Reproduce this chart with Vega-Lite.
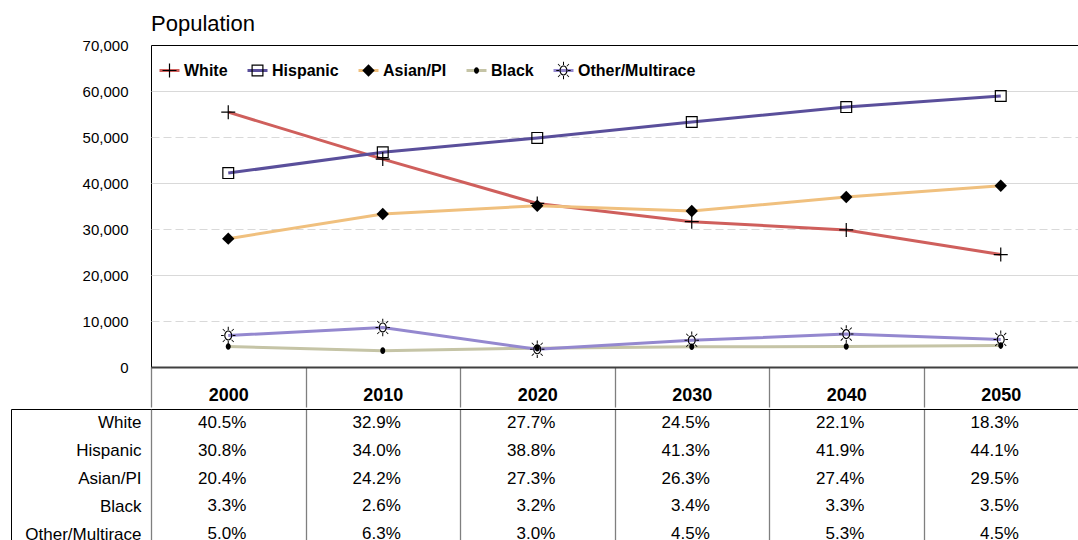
{
  "$schema": "https://vega.github.io/schema/vega-lite/v6.json",
  "padding": {"left": 10, "top": 12, "right": 1, "bottom": 0},
  "spacing": -10,
  "config": {
    "font": "Liberation Sans",
    "axis": {"labelFont": "Liberation Sans", "labelColor": "black"},
    "legend": {"labelFont": "Liberation Sans"}
  },
  "datasets": {
    "pop": [
      {"year": "2000", "race": "White", "order": 1, "pop": 55400, "pct": 0.405},
      {"year": "2000", "race": "Hispanic", "order": 2, "pop": 42150, "pct": 0.308},
      {"year": "2000", "race": "Asian/PI", "order": 3, "pop": 27900, "pct": 0.204},
      {"year": "2000", "race": "Black", "order": 4, "pop": 4450, "pct": 0.033},
      {"year": "2000", "race": "Other/Multirace", "order": 5, "pop": 6850, "pct": 0.05},
      {"year": "2010", "race": "White", "order": 1, "pop": 45200, "pct": 0.329},
      {"year": "2010", "race": "Hispanic", "order": 2, "pop": 46700, "pct": 0.34},
      {"year": "2010", "race": "Asian/PI", "order": 3, "pop": 33250, "pct": 0.242},
      {"year": "2010", "race": "Black", "order": 4, "pop": 3550, "pct": 0.026},
      {"year": "2010", "race": "Other/Multirace", "order": 5, "pop": 8600, "pct": 0.063},
      {"year": "2020", "race": "White", "order": 1, "pop": 35550, "pct": 0.277},
      {"year": "2020", "race": "Hispanic", "order": 2, "pop": 49800, "pct": 0.388},
      {"year": "2020", "race": "Asian/PI", "order": 3, "pop": 35050, "pct": 0.273},
      {"year": "2020", "race": "Black", "order": 4, "pop": 4100, "pct": 0.032},
      {"year": "2020", "race": "Other/Multirace", "order": 5, "pop": 3850, "pct": 0.03},
      {"year": "2030", "race": "White", "order": 1, "pop": 31600, "pct": 0.245},
      {"year": "2030", "race": "Hispanic", "order": 2, "pop": 53250, "pct": 0.413},
      {"year": "2030", "race": "Asian/PI", "order": 3, "pop": 33900, "pct": 0.263},
      {"year": "2030", "race": "Black", "order": 4, "pop": 4400, "pct": 0.034},
      {"year": "2030", "race": "Other/Multirace", "order": 5, "pop": 5800, "pct": 0.045},
      {"year": "2040", "race": "White", "order": 1, "pop": 29800, "pct": 0.221},
      {"year": "2040", "race": "Hispanic", "order": 2, "pop": 56500, "pct": 0.419},
      {"year": "2040", "race": "Asian/PI", "order": 3, "pop": 36950, "pct": 0.274},
      {"year": "2040", "race": "Black", "order": 4, "pop": 4450, "pct": 0.033},
      {"year": "2040", "race": "Other/Multirace", "order": 5, "pop": 7150, "pct": 0.053},
      {"year": "2050", "race": "White", "order": 1, "pop": 24450, "pct": 0.183},
      {"year": "2050", "race": "Hispanic", "order": 2, "pop": 58900, "pct": 0.441},
      {"year": "2050", "race": "Asian/PI", "order": 3, "pop": 39400, "pct": 0.295},
      {"year": "2050", "race": "Black", "order": 4, "pop": 4650, "pct": 0.035},
      {"year": "2050", "race": "Other/Multirace", "order": 5, "pop": 6000, "pct": 0.045}
    ]
  },
  "vconcat": [
    {
      "title": {"text": "Population", "anchor": "start", "frame": "group", "fontSize": 22, "fontWeight": "normal", "font": "Liberation Sans", "color": "black", "offset": 2},
      "width": 927,
      "height": 322,
      "data": {"name": "pop"},
      "view": {"stroke": "black", "strokeWidth": 1},
      "encoding": {
        "x": {
          "field": "year", "type": "ordinal", "bandPosition": 0.5,
          "scale": {"type": "band", "paddingInner": 0, "paddingOuter": 0},
          "axis": {
            "title": null, "orient": "bottom", "labelAngle": 0,
            "labelFontSize": 18, "labelFontWeight": "bold", "labelColor": "black",
            "tickBand": "extent", "tickSize": 40, "tickWidth": 1.3,
            "tickColor": {"condition": {"test": "datum.value === '2050' && !datum.extra", "value": "transparent"}, "value": "#7f7f7f"},
            "domainColor": "#404040", "domainWidth": 2, "labelPadding": -21, "grid": false
          }
        },
        "y": {
          "field": "pop", "type": "quantitative",
          "scale": {"domain": [0, 70000]},
          "axis": {
            "title": null, "values": [0, 10000, 20000, 30000, 40000, 50000, 60000, 70000],
            "format": ",d", "labelFontSize": 15, "labelColor": "black",
            "ticks": false, "domain": false, "labelPadding": 23,
            "gridColor": "#d9d9d9", "gridWidth": 1,
            "gridOpacity": {"condition": {"test": "datum.value === 0 || datum.value === 70000", "value": 0}, "value": 1},
            "gridDash": {"condition": {"test": "datum.value % 20000 !== 0", "value": [8, 4]}, "value": []},
            "minExtent": 140, "maxExtent": 140
          }
        }
      },
      "layer": [
        {
          "mark": {"type": "line", "strokeWidth": 3},
          "encoding": {
            "color": {
              "field": "race", "type": "nominal",
              "scale": {
                "domain": ["White", "Hispanic", "Asian/PI", "Black", "Other/Multirace"],
                "range": ["#cf5f5c", "#5a4f9b", "#f0c07e", "#c5c4a6", "#9488cf"]
              },
              "legend": {
                "orient": "none", "legendX": 7, "legendY": 14, "direction": "horizontal",
                "title": null, "symbolType": "M-1,0H1M0,-1.15M0,1.15", "symbolSize": 400, "symbolStrokeWidth": 3,
                "symbolFillColor": "transparent",
                "labelFontSize": 16, "labelFontWeight": "bold", "labelOpacity": 0,
                "labelOffset": 3, "columnPadding": 13, "padding": 0
              }
            }
          }
        },
        {
          "mark": {"type": "point", "size": 400, "filled": true, "fill": "black", "strokeWidth": 0, "opacity": 1},
          "encoding": {
            "shape": {
              "field": "race", "type": "nominal", "sort": {"field": "order", "op": "min"},
              "scale": {
                "range": [
                  "M-1,0M1,0M0,-1.15M0,1.15M-0.7,-0.06H-0.06V-0.7H0.06V-0.06H0.7V0.06H0.06V0.7H-0.06V0.06H-0.7Z",
                  "M-1,0M1,0M0,-1.15M0,1.15M-0.6,-0.6H0.6V0.6H-0.6ZM-0.48,-0.48V0.48H0.48V-0.48Z",
                  "M-1,0M1,0M0,-1.15M0,1.15M0,-0.62L0.62,0L0,0.62L-0.62,0Z",
                  "M-1,0M1,0M0,-1.15M0,1.15M-0.25,0A0.25,0.33 0 1,0 0.25,0A0.25,0.33 0 1,0 -0.25,0Z",
                  "M-1,0M1,0M0,-1.15M0,1.15M-0.4,0A0.4,0.5 0 1,0 0.4,0A0.4,0.5 0 1,0 -0.4,0ZM-0.29,0A0.29,0.39 0 1,1 0.29,0A0.29,0.39 0 1,1 -0.29,0ZM-0.05,-0.56H0.05V-0.88H-0.05ZM-0.05,0.56H0.05V0.88H-0.05ZM-0.45,-0.05V0.05H-0.72V-0.05ZM0.45,-0.05V0.05H0.72V-0.05ZM0.3,-0.46L0.52,-0.68L0.58,-0.62L0.36,-0.4ZM-0.3,-0.46L-0.52,-0.68L-0.58,-0.62L-0.36,-0.4ZM0.3,0.46L0.52,0.68L0.58,0.62L0.36,0.4ZM-0.3,0.46L-0.52,0.68L-0.58,0.62L-0.36,0.4Z"
                ]
              },
              "legend": {
                "orient": "none", "legendX": 7, "legendY": 14, "direction": "horizontal",
                "title": null, "symbolSize": 400, "symbolStrokeWidth": 3, "symbolStrokeColor": "transparent", "symbolFillColor": "black",
                "labelFontSize": 16, "labelFontWeight": "bold", "labelColor": "black",
                "labelOffset": 3, "columnPadding": 13, "padding": 0
              }
            }
          }
        }
      ]
    },
    {
      "width": 927,
      "height": 132,
      "data": {"name": "pop"},
      "view": {"stroke": null},
      "mark": {"type": "text", "align": "right", "dx": 18, "baseline": "middle", "font": "Liberation Sans", "fontSize": 17, "color": "black"},
      "encoding": {
        "x": {
          "field": "year", "type": "ordinal",
          "scale": {"type": "band", "paddingInner": 0, "paddingOuter": 0},
          "axis": {
            "orient": "top", "title": null, "labels": false, "ticks": false,
            "domain": true, "domainColor": "black", "domainWidth": 1,
            "grid": true, "tickBand": "extent", "gridWidth": 1.3, "gridOpacity": 1,
            "gridColor": {"condition": {"test": "datum.value === '2050' && !datum.extra", "value": "transparent"}, "value": "#7f7f7f"}
          }
        },
        "y": {
          "field": "race", "type": "nominal",
          "scale": {"domain": ["White", "Hispanic", "Asian/PI", "Black", "Other/Multirace"], "range": [0, 139], "paddingInner": 0, "paddingOuter": 0},
          "axis": {
            "orient": "left", "title": null, "offset": 140,
            "domain": true, "domainColor": "black", "domainWidth": 1,
            "ticks": true, "tickBand": "extent", "tickSize": -140, "tickWidth": 1,
            "tickColor": {"condition": {"test": "datum.extra", "value": "black"}, "value": "transparent"},
            "labelPadding": 10, "labelFontSize": 17, "labelColor": "black", "grid": false
          }
        },
        "text": {"field": "pct", "type": "quantitative", "format": ".1%"}
      }
    }
  ]
}
